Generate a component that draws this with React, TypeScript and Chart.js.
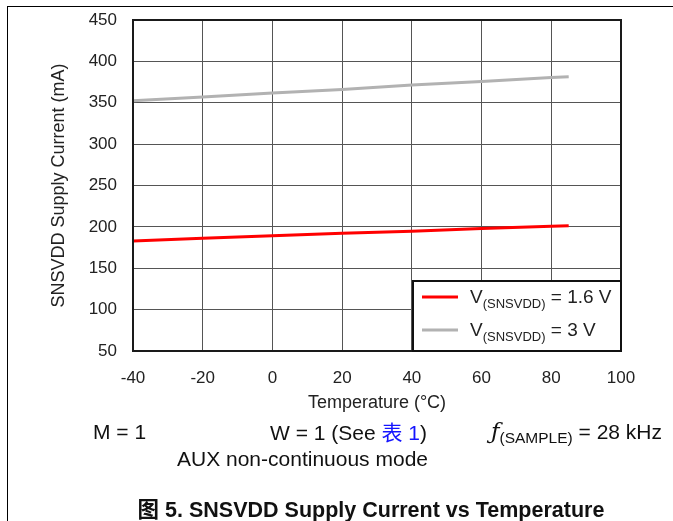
import React, { useEffect, useRef } from "react";
import { Chart, registerables } from "chart.js";

Chart.register(...registerables);

const temperatures = [-40, -20, 0, 20, 40, 60, 80, 85];
const current16V = [183.0, 186.2, 189.4, 192.2, 194.7, 197.9, 200.7, 201.5];
const current3V = [352.4, 356.9, 361.7, 366.0, 371.4, 375.8, 380.6, 381.4];
const xTicks = [-40, -20, 0, 20, 40, 60, 80, 100];
const yTicks = [50, 100, 150, 200, 250, 300, 350, 400, 450];
const legendLabels = [
  { pre: "V", sub: "(SNSVDD)", post: " = 1.6 V", color: "#ff0000" },
  { pre: "V", sub: "(SNSVDD)", post: " = 3 V", color: "#b2b2b2" },
];

const FONT = "'Liberation Sans', Arial, sans-serif";

const framePlugin = {
  id: "frameAndLegend",
  afterDraw(chart: any) {
    const { ctx, chartArea } = chart;
    const { left, top, right, bottom } = chartArea;
    ctx.save();
    ctx.strokeStyle = "#1a1a1a";
    ctx.lineWidth = 2;
    ctx.strokeRect(left, top, right - left, bottom - top);
    const bw = 208;
    const bh = 70;
    const bx = right - bw;
    const by = bottom - bh;
    ctx.fillStyle = "#ffffff";
    ctx.fillRect(bx, by, bw, bh);
    ctx.strokeStyle = "#111";
    ctx.lineWidth = 2;
    ctx.strokeRect(bx, by, bw, bh);
    legendLabels.forEach((item, i) => {
      const y = by + 16 + i * 33;
      ctx.strokeStyle = item.color;
      ctx.lineWidth = 3;
      ctx.beginPath();
      ctx.moveTo(bx + 9, y);
      ctx.lineTo(bx + 45, y);
      ctx.stroke();
      ctx.fillStyle = "#222";
      ctx.textBaseline = "alphabetic";
      ctx.textAlign = "left";
      let x = bx + 57;
      const base = y + 6;
      ctx.font = `19px ${FONT}`;
      ctx.fillText(item.pre, x, base);
      x += ctx.measureText(item.pre).width;
      ctx.font = `13px ${FONT}`;
      ctx.fillText(item.sub, x, base + 5);
      x += ctx.measureText(item.sub).width;
      ctx.font = `19px ${FONT}`;
      ctx.fillText(item.post, x, base);
    });
    ctx.restore();
  },
};

export default function App() {
  const ref = useRef<HTMLCanvasElement | null>(null);
  useEffect(() => {
    if (!ref.current) return;
    const chart = new Chart(ref.current, {
      type: "line",
      data: {
        datasets: [
          {
            label: "V(SNSVDD) = 1.6 V",
            data: temperatures.map((t, i) => ({ x: t, y: current16V[i] })),
            borderColor: "#ff0000",
            borderWidth: 3,
            pointRadius: 0,
            tension: 0,
          },
          {
            label: "V(SNSVDD) = 3 V",
            data: temperatures.map((t, i) => ({ x: t, y: current3V[i] })),
            borderColor: "#b2b2b2",
            borderWidth: 3,
            pointRadius: 0,
            tension: 0,
          },
        ],
      },
      options: {
        animation: false,
        responsive: false,
        devicePixelRatio: 1,
        layout: { padding: { left: 0, top: 20, right: 52, bottom: 0 } },
        plugins: { legend: { display: false }, tooltip: { enabled: false } },
        scales: {
          x: {
            type: "linear",
            min: xTicks[0],
            max: xTicks[xTicks.length - 1],
            afterBuildTicks: (s: any) => {
              s.ticks = xTicks.map((v) => ({ value: v }));
            },
            afterFit: (s: any) => {
              s.height = 170;
              s.paddingLeft = 0;
              s.paddingRight = 0;
            },
            ticks: { font: { family: FONT, size: 17 }, color: "#222", padding: 17 },
            grid: { color: "#555", lineWidth: 1, drawTicks: false },
            border: { display: false },
            title: {
              display: true,
              text: "Temperature (°C)",
              font: { family: FONT, size: 18 },
              color: "#222",
              padding: { top: 0, bottom: 107.5 },
            },
          },
          y: {
            type: "linear",
            min: yTicks[0],
            max: yTicks[yTicks.length - 1],
            afterBuildTicks: (s: any) => {
              s.ticks = yTicks.map((v) => ({ value: v }));
            },
            afterFit: (s: any) => {
              s.width = 133;
              s.paddingTop = 0;
              s.paddingBottom = 0;
            },
            ticks: { font: { family: FONT, size: 17 }, color: "#222", padding: 16 },
            grid: { color: "#555", lineWidth: 1, drawTicks: false },
            border: { display: false },
            title: {
              display: true,
              text: "SNSVDD Supply Current (mA)",
              font: { family: FONT, size: 18 },
              color: "#222",
              padding: { top: 48, bottom: 0 },
            },
          },
        },
      },
      plugins: [framePlugin],
    });
    return () => chart.destroy();
  }, []);

  const txt: React.CSSProperties = {
    position: "absolute",
    fontFamily: FONT,
    fontSize: 21,
    lineHeight: "21px",
    color: "#111",
    whiteSpace: "nowrap",
  };

  return (
    <div style={{ position: "absolute", left: 0, top: 0, width: 673, height: 521, background: "#fff", overflow: "hidden" }}>
      <canvas ref={ref} width={673} height={521} style={{ position: "absolute", left: 0, top: 0, width: 673, height: 521 }} />
      <div style={{ position: "absolute", left: 7, top: 6, width: 666, height: 1, background: "#000" }} />
      <div style={{ position: "absolute", left: 7, top: 6, width: 1, height: 515, background: "#000" }} />
      <div style={{ ...txt, left: 93, top: 421 }}>M = 1</div>
      <div style={{ ...txt, left: 270, top: 421 }}>
        W = 1 (See <span style={{ color: "#1515ff", fontFamily: "'Noto Sans CJK SC', sans-serif" }}>表</span>
        <span style={{ color: "#1515ff" }}> 1</span>)
      </div>
      <div style={{ ...txt, right: 11, top: 421 }}>
        <span style={{ fontStyle: "italic", fontFamily: "'DejaVu Serif', serif", fontSize: 23 }}>ƒ</span>
        <span style={{ fontSize: 15.5, position: "relative", top: 4 }}>(SAMPLE)</span> = 28 kHz
      </div>
      <div style={{ ...txt, left: 177, top: 448 }}>AUX non-continuous mode</div>
      <div style={{ ...txt, left: 0, width: 742, textAlign: "center", top: 497, fontWeight: "bold", fontSize: 21.5 }}>
        <span style={{ fontFamily: "'Noto Sans CJK SC', sans-serif" }}>图</span> 5. SNSVDD Supply Current vs Temperature
      </div>
    </div>
  );
}
